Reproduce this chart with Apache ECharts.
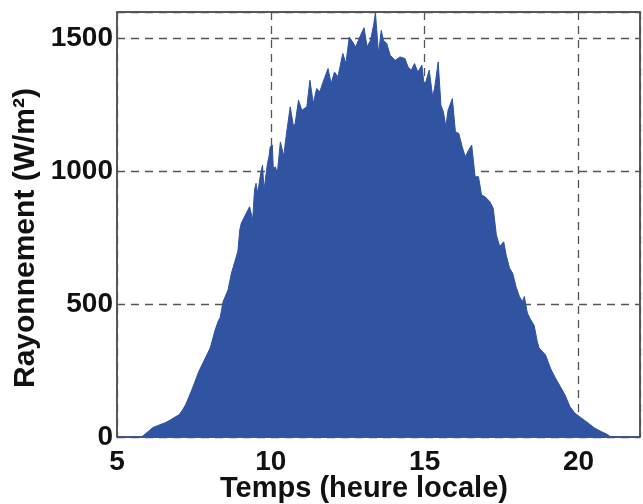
<!DOCTYPE html>
<html>
<head>
    <meta charset="UTF-8">
    <title>Rayonnement</title>
    <script src="https://cdn.jsdelivr.net/npm/echarts@6/dist/echarts.min.js"></script>
    <style>
        html, body { margin: 0; padding: 0; background: #fff; }
        #main { width: 643px; height: 504px; }
    </style>
</head>
<body>
<div id="main"></div>
<script type="text/javascript">

    // enveloppe supérieure (heure locale, W/m²)
    var heures = [5.00, 5.80, 6.06, 6.17, 6.59, 6.70, 7.02, 7.12, 7.23, 7.44, 7.66, 7.87, 8.03, 8.19, 8.30, 8.35,
        8.45, 8.61, 8.72, 8.83, 8.93, 8.99, 9.04, 9.09, 9.20, 9.31, 9.41, 9.47, 9.52, 9.57, 9.68, 9.73,
        9.78, 9.89, 9.94, 9.98, 10.05, 10.08, 10.15, 10.21, 10.31, 10.42, 10.51, 10.63, 10.74, 10.79,
        10.90, 11.01, 11.17, 11.27, 11.38, 11.49, 11.59, 11.70, 11.86, 11.96, 12.07, 12.18, 12.34,
        12.44, 12.55, 12.66, 12.76, 12.87, 13.03, 13.13, 13.24, 13.34, 13.40, 13.50, 13.59, 13.66,
        13.77, 13.88, 14.04, 14.20, 14.36, 14.46, 14.57, 14.67, 14.78, 14.91, 14.99, 15.15, 15.26,
        15.33, 15.44, 15.53, 15.61, 15.69, 15.76, 15.90, 16.00, 16.11, 16.22, 16.32, 16.43, 16.53,
        16.64, 16.75, 16.85, 16.96, 17.12, 17.23, 17.33, 17.44, 17.57, 17.65, 17.76, 17.86, 17.97,
        18.08, 18.18, 18.24, 18.34, 18.45, 18.56, 18.66, 18.72, 18.77, 18.93, 19.09, 19.25, 19.41,
        19.56, 19.72, 19.88, 20.10, 20.31, 20.52, 20.73, 20.95, 21.05, 22.00];
    var rayonnement = [0, 0, 25, 36, 55, 62, 84, 100, 121, 180, 247, 297, 335, 403, 440, 448,
        510, 554, 617, 660, 700, 779, 805, 805, 842, 867, 817, 930, 955, 918, 999, 1023,
        930, 1030, 1055, 1093, 1099, 1011, 1017, 992, 1111, 1058, 1143, 1243, 1168, 1180,
        1268, 1230, 1243, 1343, 1256, 1312, 1299, 1337, 1387, 1331, 1374, 1356, 1444,
        1406, 1506, 1487, 1468, 1500, 1541, 1468, 1494, 1550, 1597, 1444, 1531, 1494,
        1481, 1437, 1418, 1431, 1425, 1393, 1381, 1406, 1374, 1400, 1318, 1381, 1280,
        1318, 1412, 1249, 1224, 1168, 1230, 1274, 1149, 1143, 1093, 1055, 1080, 1099,
        980, 980, 911, 905, 886, 861, 761, 717, 735, 685, 635, 617, 566,
        529, 510, 529, 466, 441, 420, 360, 335, 341, 309, 259, 222, 190,
        159, 115, 90, 71, 53, 34, 21, 9, 0, 0];

    var xTicks = [5, 10, 15, 20];
    var yTicks = [0, 500, 1000, 1500];

    var points = [];
    for (var i = 0; i < heures.length; i++) {
        points.push([heures[i], rayonnement[i]]);
    }

    var bleu = '#3053a2';
    var police = '"Liberation Sans", Arial, sans-serif';

    var myChart = echarts.init(document.getElementById('main'));
    myChart.setOption({
        animation: false,
        grid: {
            left: 117, top: 12, right: -7, bottom: 67,
            show: true, borderColor: '#222', borderWidth: 1.5,
            backgroundColor: 'transparent'
        },
        xAxis: {
            type: 'value',
            min: 5, max: 22, interval: 5,
            axisLine: {show: false},
            axisTick: {show: false},
            splitLine: {lineStyle: {color: '#555', width: 1.3, type: [8, 6]}},
            axisLabel: {
                color: '#111', fontSize: 28, fontWeight: 'bold', fontFamily: police, margin: 11,
                formatter: function (v) { return xTicks.indexOf(v) >= 0 ? String(v) : ''; }
            }
        },
        yAxis: {
            type: 'value',
            min: 0, max: 1600, interval: 500,
            axisLine: {show: false},
            axisTick: {show: false},
            splitLine: {lineStyle: {color: '#555', width: 1.3, type: [8, 6]}},
            axisLabel: {
                color: '#111', fontSize: 28, fontWeight: 'bold', fontFamily: police, margin: 4,
                formatter: function (v) { return yTicks.indexOf(v) >= 0 ? String(v) : ''; }
            }
        },
        graphic: [{
            type: 'text', left: 220, top: 474,
            style: {text: 'Temps (heure locale)', fill: '#111', font: 'bold 29px ' + police}
        }, {
            type: 'text', left: 11, top: 88, rotation: Math.PI / 2,
            style: {text: 'Rayonnement (W/m²)', fill: '#111', font: 'bold 30px ' + police}
        }],
        series: [{
            type: 'line',
            data: points,
            symbol: 'none',
            lineStyle: {color: bleu, width: 1},
            areaStyle: {color: bleu, opacity: 1},
            z: 1
        }]
    });

</script>
</body>
</html>
